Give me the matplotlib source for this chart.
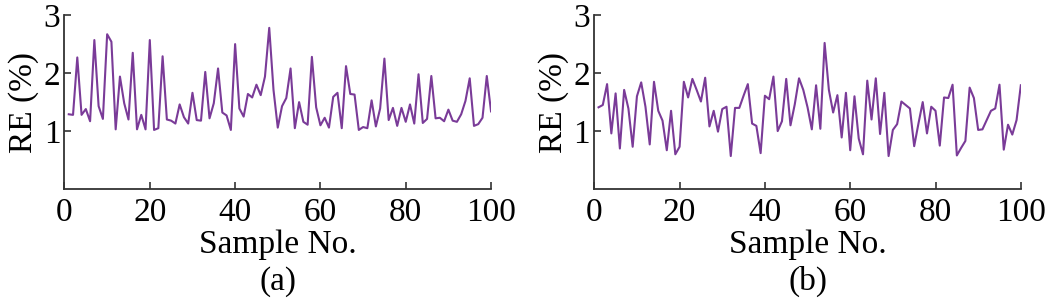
import matplotlib
matplotlib.use("Agg")
import matplotlib.pyplot as plt
import numpy as np

plt.rcParams["font.family"] = ["Liberation Serif", "DejaVu Serif"]
plt.rcParams["font.size"] = 24

sample_no = np.arange(1, 101)

re_a = [1.29, 1.28, 2.27, 1.28, 1.38, 1.17, 2.57, 1.43, 1.21, 2.67,
        2.54, 1.03, 1.94, 1.48, 1.20, 2.35, 1.03, 1.28, 1.03, 2.57,
        1.02, 1.05, 2.29, 1.20, 1.18, 1.13, 1.46, 1.24, 1.13, 1.66,
        1.19, 1.18, 2.02, 1.22, 1.48, 2.08, 1.32, 1.27, 1.02, 2.50,
        1.39, 1.25, 1.64, 1.58, 1.80, 1.62, 1.94, 2.78, 1.71, 1.06,
        1.43, 1.57, 2.08, 1.05, 1.50, 1.16, 1.11, 2.28, 1.41, 1.10,
        1.23, 1.06, 1.59, 1.66, 1.05, 2.12, 1.64, 1.63, 1.02, 1.07,
        1.05, 1.53, 1.08, 1.39, 2.25, 1.19, 1.40, 1.09, 1.40, 1.16,
        1.46, 1.13, 1.98, 1.14, 1.21, 1.95, 1.22, 1.23, 1.17, 1.37,
        1.18, 1.16, 1.29, 1.52, 1.91, 1.09, 1.12, 1.23, 1.95, 1.34]

re_b = [1.41, 1.45, 1.81, 0.96, 1.65, 0.70, 1.71, 1.39, 0.73, 1.60,
        1.84, 1.42, 0.77, 1.85, 1.35, 1.18, 0.67, 1.35, 0.60, 0.73,
        1.85, 1.58, 1.90, 1.71, 1.51, 1.92, 1.08, 1.35, 0.99, 1.38,
        1.42, 0.57, 1.40, 1.40, 1.61, 1.81, 1.13, 1.09, 0.62, 1.61,
        1.55, 1.94, 1.00, 1.17, 1.90, 1.10, 1.46, 1.91, 1.71, 1.41,
        1.03, 1.79, 1.04, 2.52, 1.71, 1.32, 1.62, 0.89, 1.66, 0.67,
        1.60, 0.87, 0.60, 1.87, 1.20, 1.91, 0.95, 1.66, 0.57, 1.02,
        1.12, 1.51, 1.45, 1.39, 0.74, 1.13, 1.50, 0.96, 1.42, 1.35,
        0.75, 1.58, 1.57, 1.80, 0.58, 0.71, 0.83, 1.75, 1.57, 1.02,
        1.03, 1.19, 1.35, 1.39, 1.80, 0.68, 1.11, 0.94, 1.19, 1.79]

lineColour = "#7a3b98"
spineColour = "#333333"

fig = plt.figure(figsize=(10.47, 3.05), dpi=100)

panels = [(0.0616, re_a, "(a)"), (0.5676, re_b, "(b)")]
for left, values, caption in panels:
    ax = fig.add_axes([left, 0.380, 0.4074, 0.5705])
    ax.plot(sample_no, values, color=lineColour, linewidth=1.5)
    ax.set_xlim(0, 100)
    ax.set_ylim(0, 3)
    ax.set_xticks([0, 20, 40, 60, 80, 100])
    ax.set_yticks([1, 2, 3])
    ax.spines["top"].set_visible(False)
    ax.spines["right"].set_visible(False)
    for s in ["left", "bottom"]:
        ax.spines[s].set_linewidth(1.3)
        ax.spines[s].set_color(spineColour)
    ax.tick_params(direction="in", length=5, width=1.2, color=spineColour, pad=3)
    ax.tick_params(axis="x", pad=6)
    ax.set_xlabel("Sample No.", labelpad=1)
    ax.set_ylabel("RE (%)", labelpad=3)
    fig.text(left + 0.4074 / 2, 0.077, caption, ha="center", va="center")

plt.savefig("out.png", dpi=100)
